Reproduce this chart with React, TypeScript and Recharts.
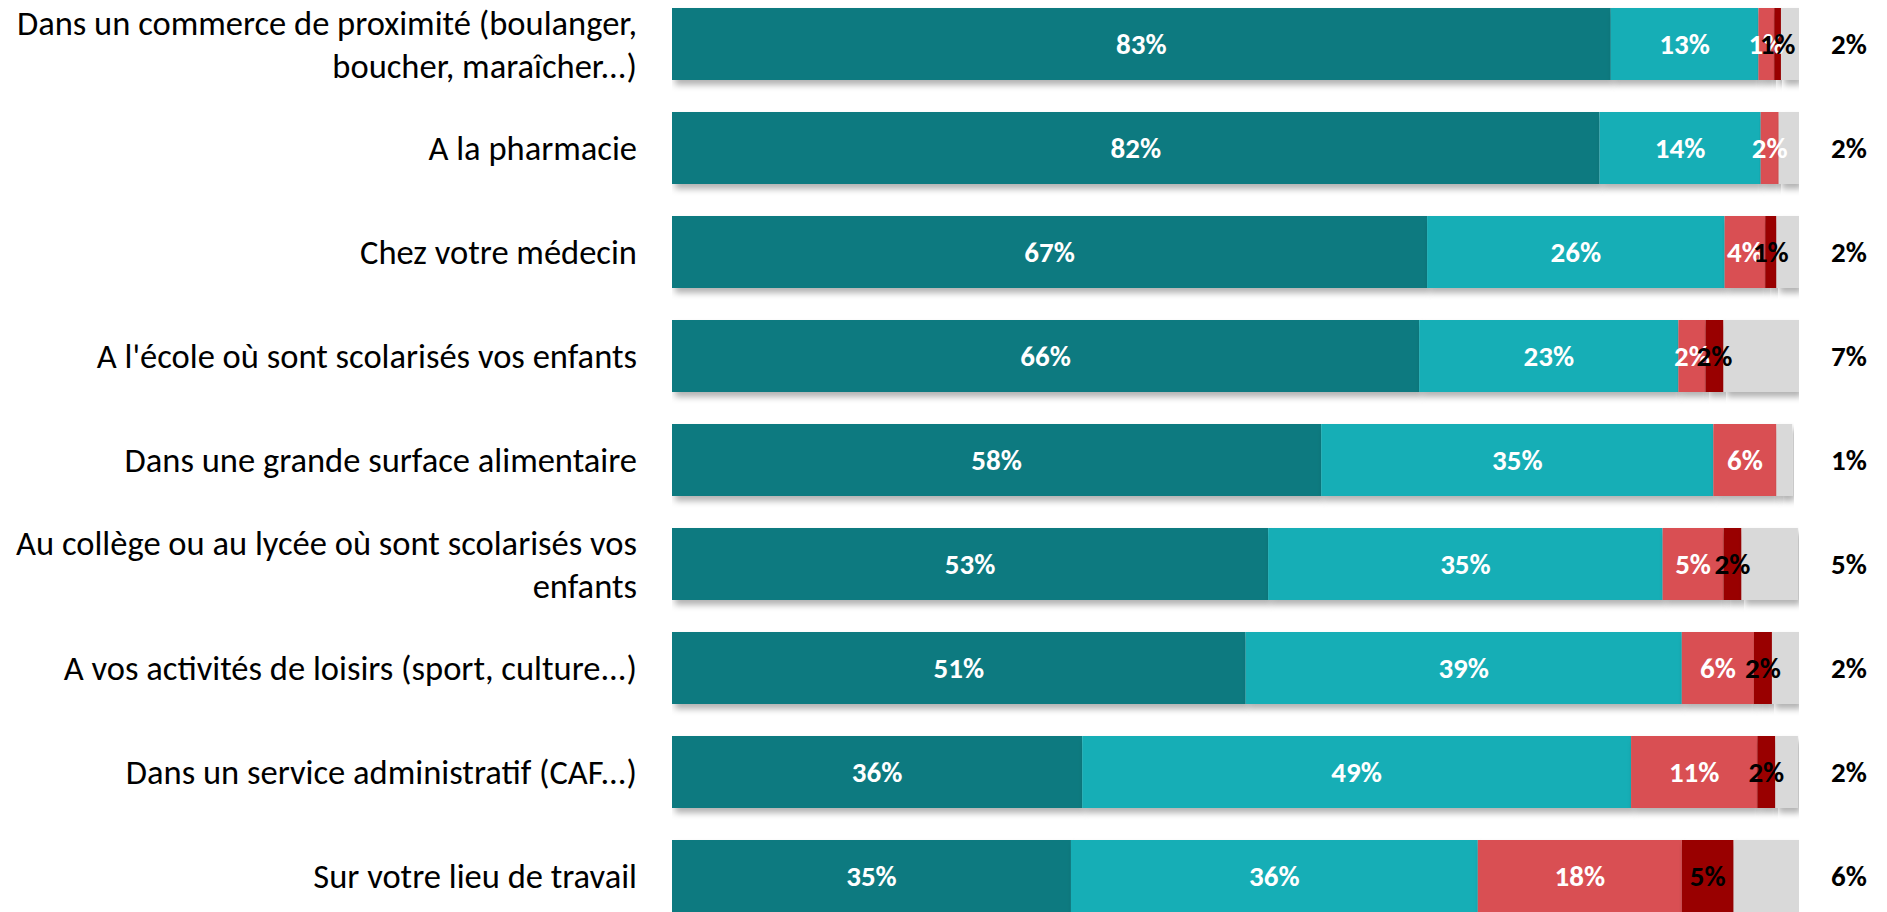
import React from 'react';
import { BarChart, Bar, XAxis, YAxis, LabelList } from 'recharts';

const categories = [
  'Dans un commerce de proximité (boulanger, boucher, maraîcher...)',
  'A la pharmacie',
  'Chez votre médecin',
  "A l'école où sont scolarisés vos enfants",
  'Dans une grande surface alimentaire',
  'Au collège ou au lycée où sont scolarisés vos enfants',
  'A vos activités de loisirs (sport, culture...)',
  'Dans un service administratif (CAF...)',
  'Sur votre lieu de travail',
];

const toutAFait = [83.3, 82.3, 67.0, 66.3, 57.6, 52.9, 50.9, 36.4, 35.4];
const plutot = [13.1, 14.3, 26.4, 23.0, 34.8, 35.0, 38.7, 48.7, 36.1];
const plutotPas = [1.4, 1.6, 3.6, 2.4, 5.6, 5.4, 6.4, 11.2, 18.1];
const pasDuTout = [0.6, 0, 1.0, 1.6, 0, 1.6, 1.6, 1.6, 4.6];
const nsp = [1.6, 1.8, 2.0, 6.8, 1.4, 5.0, 2.4, 2.0, 5.8];

const data = categories.map((name, i) => ({
  name,
  toutAFait: toutAFait[i],
  plutot: plutot[i],
  plutotPas: plutotPas[i],
  pasDuTout: pasDuTout[i],
  nsp: nsp[i],
}));

const W = 1887;
const H = 936;
const AXIS_W = 672;
const RIGHT = 88;
const LABEL_X = 637;
const FONT = 'Carlito, Calibri, Lato, sans-serif';

function wrap(text: string, max: number) {
  const words = text.split(' ');
  const lines: string[] = [];
  let cur = '';
  words.forEach((w) => {
    const next = cur ? cur + ' ' + w : w;
    if (next.length > max && cur) {
      lines.push(cur);
      cur = w;
    } else cur = next;
  });
  if (cur) lines.push(cur);
  return lines;
}

function CategoryTick(props: any) {
  const { y, payload } = props;
  const lines = wrap(payload.value, 47);
  const lh = 43;
  const top = y - ((lines.length - 1) * lh) / 2;
  return (
    <text textAnchor="end" fontFamily={FONT} fontSize={34.5} fill="#000">
      {lines.map((l, i) => (
        <tspan key={i} x={LABEL_X} y={top + i * lh} dy="0.35em">
          {l}
        </tspan>
      ))}
    </text>
  );
}

const shadowShape = (props: any) => {
  const { x, y, width, height, fill } = props;
  if (!width || width <= 0) return <g />;
  return <rect x={x} y={y} width={width} height={height} fill={fill} filter="url(#barShadow)" />;
};

const inside = (color: string) => (props: any) => {
  const { x, y, width, height, value } = props;
  const v = Math.round(Number(value));
  if (!value || v === 0) return null;
  return (
    <text
      x={x + width / 2}
      y={y + height / 2}
      dy="0.35em"
      textAnchor="middle"
      fontFamily={FONT}
      fontWeight={700}
      fontSize={29}
      fill={color}
    >
      {v}%
    </text>
  );
};

const outside = (props: any) => {
  const { y, height, value } = props;
  return (
    <text
      x={W - RIGHT + 50}
      y={y + height / 2}
      dy="0.35em"
      textAnchor="middle"
      fontFamily={FONT}
      fontWeight={700}
      fontSize={29}
      fill="#000"
    >
      {Math.round(Number(value))}%
    </text>
  );
};

export default function App() {
  return (
    <div style={{ position: 'absolute', left: 0, top: 0, width: W, height: 912, overflow: 'hidden', background: '#fff' }}>
      <div style={{ marginTop: -8 }}>
        <BarChart
          width={W}
          height={H}
          data={data}
          layout="vertical"
          margin={{ top: 0, right: RIGHT, bottom: 0, left: 0 }}
          barSize={72}
        >
          <defs>
            <filter id="barShadow" x="-5%" y="-20%" width="115%" height="160%">
              <feDropShadow dx="3" dy="5" stdDeviation="3" floodColor="#000" floodOpacity="0.3" />
            </filter>
          </defs>
          <XAxis type="number" domain={[0, 100]} hide allowDataOverflow />
          <YAxis
            type="category"
            dataKey="name"
            width={AXIS_W}
            axisLine={false}
            tickLine={false}
            tick={<CategoryTick />}
            interval={0}
          />
          <Bar dataKey="toutAFait" stackId="a" fill="#0F7A80" shape={shadowShape} isAnimationActive={false}>
            <LabelList dataKey="toutAFait" content={inside('#fff')} />
          </Bar>
          <Bar dataKey="plutot" stackId="a" fill="#14AEB6" shape={shadowShape} isAnimationActive={false}>
            <LabelList dataKey="plutot" content={inside('#fff')} />
          </Bar>
          <Bar dataKey="plutotPas" stackId="a" fill="#D94F52" shape={shadowShape} isAnimationActive={false}>
            <LabelList dataKey="plutotPas" content={inside('#fff')} />
          </Bar>
          <Bar dataKey="pasDuTout" stackId="a" fill="#990000" shape={shadowShape} isAnimationActive={false}>
            <LabelList dataKey="pasDuTout" content={inside('#000')} />
          </Bar>
          <Bar dataKey="nsp" stackId="a" fill="#D9D9D9" shape={shadowShape} isAnimationActive={false}>
            <LabelList dataKey="nsp" content={outside} />
          </Bar>
        </BarChart>
      </div>
    </div>
  );
}
